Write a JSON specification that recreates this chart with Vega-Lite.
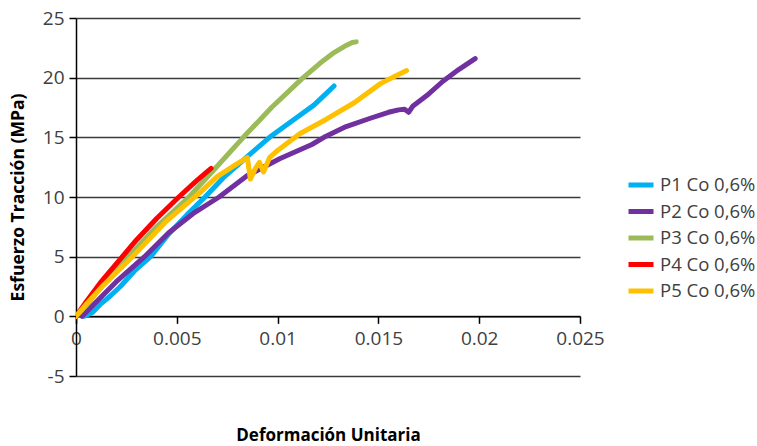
{
  "$schema": "https://vega.github.io/schema/vega-lite/v6.json",
  "width": 504,
  "height": 358,
  "autosize": {"type": "none"},
  "padding": {"left": 76, "top": 18, "right": 177, "bottom": 70},
  "background": "white",
  "config": {
    "view": {"stroke": null},
    "font": "Open Sans"
  },
  "data": {
    "values": [
      {"s": "P1 Co 0,6%", "x": 0.0004, "y": 0},
      {"s": "P1 Co 0,6%", "x": 0.0008, "y": 0.3},
      {"s": "P1 Co 0,6%", "x": 0.0012, "y": 1.0},
      {"s": "P1 Co 0,6%", "x": 0.0017, "y": 1.7},
      {"s": "P1 Co 0,6%", "x": 0.0022, "y": 2.5},
      {"s": "P1 Co 0,6%", "x": 0.0029, "y": 3.8},
      {"s": "P1 Co 0,6%", "x": 0.0037, "y": 5.0},
      {"s": "P1 Co 0,6%", "x": 0.0046, "y": 6.9},
      {"s": "P1 Co 0,6%", "x": 0.0055, "y": 8.5},
      {"s": "P1 Co 0,6%", "x": 0.0064, "y": 10.0},
      {"s": "P1 Co 0,6%", "x": 0.0073, "y": 11.6},
      {"s": "P1 Co 0,6%", "x": 0.0083, "y": 13.1},
      {"s": "P1 Co 0,6%", "x": 0.0096, "y": 15.0},
      {"s": "P1 Co 0,6%", "x": 0.0109, "y": 16.6},
      {"s": "P1 Co 0,6%", "x": 0.0118, "y": 17.7},
      {"s": "P1 Co 0,6%", "x": 0.0123, "y": 18.5},
      {"s": "P1 Co 0,6%", "x": 0.0128, "y": 19.3},
      {"s": "P2 Co 0,6%", "x": 0.0003, "y": 0},
      {"s": "P2 Co 0,6%", "x": 0.001, "y": 1.2},
      {"s": "P2 Co 0,6%", "x": 0.002, "y": 2.9},
      {"s": "P2 Co 0,6%", "x": 0.0034, "y": 5.0},
      {"s": "P2 Co 0,6%", "x": 0.0046, "y": 7.0},
      {"s": "P2 Co 0,6%", "x": 0.0058, "y": 8.6},
      {"s": "P2 Co 0,6%", "x": 0.0071, "y": 10.0},
      {"s": "P2 Co 0,6%", "x": 0.0085, "y": 11.8},
      {"s": "P2 Co 0,6%", "x": 0.0101, "y": 13.2},
      {"s": "P2 Co 0,6%", "x": 0.0117, "y": 14.4},
      {"s": "P2 Co 0,6%", "x": 0.0123, "y": 15.0},
      {"s": "P2 Co 0,6%", "x": 0.0134, "y": 15.9},
      {"s": "P2 Co 0,6%", "x": 0.0146, "y": 16.6},
      {"s": "P2 Co 0,6%", "x": 0.0155, "y": 17.1},
      {"s": "P2 Co 0,6%", "x": 0.016, "y": 17.3},
      {"s": "P2 Co 0,6%", "x": 0.0163, "y": 17.35},
      {"s": "P2 Co 0,6%", "x": 0.0165, "y": 17.1},
      {"s": "P2 Co 0,6%", "x": 0.0167, "y": 17.6},
      {"s": "P2 Co 0,6%", "x": 0.0174, "y": 18.5},
      {"s": "P2 Co 0,6%", "x": 0.0182, "y": 19.7},
      {"s": "P2 Co 0,6%", "x": 0.019, "y": 20.7},
      {"s": "P2 Co 0,6%", "x": 0.0198, "y": 21.6},
      {"s": "P3 Co 0,6%", "x": 0, "y": 0},
      {"s": "P3 Co 0,6%", "x": 0.0005, "y": 0.9},
      {"s": "P3 Co 0,6%", "x": 0.0012, "y": 2.4},
      {"s": "P3 Co 0,6%", "x": 0.0026, "y": 5.0},
      {"s": "P3 Co 0,6%", "x": 0.004, "y": 7.5},
      {"s": "P3 Co 0,6%", "x": 0.0056, "y": 10.0},
      {"s": "P3 Co 0,6%", "x": 0.0068, "y": 12.2},
      {"s": "P3 Co 0,6%", "x": 0.0083, "y": 15.0},
      {"s": "P3 Co 0,6%", "x": 0.0097, "y": 17.5},
      {"s": "P3 Co 0,6%", "x": 0.0112, "y": 19.9},
      {"s": "P3 Co 0,6%", "x": 0.0121, "y": 21.2},
      {"s": "P3 Co 0,6%", "x": 0.0128, "y": 22.1},
      {"s": "P3 Co 0,6%", "x": 0.0134, "y": 22.7},
      {"s": "P3 Co 0,6%", "x": 0.0137, "y": 22.95},
      {"s": "P3 Co 0,6%", "x": 0.0139, "y": 23.0},
      {"s": "P4 Co 0,6%", "x": 0, "y": 0},
      {"s": "P4 Co 0,6%", "x": 0.0005, "y": 1.2},
      {"s": "P4 Co 0,6%", "x": 0.0012, "y": 2.8},
      {"s": "P4 Co 0,6%", "x": 0.0023, "y": 5.0},
      {"s": "P4 Co 0,6%", "x": 0.003, "y": 6.4},
      {"s": "P4 Co 0,6%", "x": 0.004, "y": 8.2},
      {"s": "P4 Co 0,6%", "x": 0.0051, "y": 10.0},
      {"s": "P4 Co 0,6%", "x": 0.006, "y": 11.4},
      {"s": "P4 Co 0,6%", "x": 0.0067, "y": 12.4},
      {"s": "P5 Co 0,6%", "x": 0, "y": 0},
      {"s": "P5 Co 0,6%", "x": 0.0005, "y": 1.0},
      {"s": "P5 Co 0,6%", "x": 0.0013, "y": 2.5},
      {"s": "P5 Co 0,6%", "x": 0.0028, "y": 5.0},
      {"s": "P5 Co 0,6%", "x": 0.0045, "y": 8.0},
      {"s": "P5 Co 0,6%", "x": 0.0061, "y": 10.3},
      {"s": "P5 Co 0,6%", "x": 0.007, "y": 11.7},
      {"s": "P5 Co 0,6%", "x": 0.008, "y": 12.8},
      {"s": "P5 Co 0,6%", "x": 0.0085, "y": 13.3},
      {"s": "P5 Co 0,6%", "x": 0.00865, "y": 11.5},
      {"s": "P5 Co 0,6%", "x": 0.0089, "y": 12.4},
      {"s": "P5 Co 0,6%", "x": 0.0091, "y": 12.9},
      {"s": "P5 Co 0,6%", "x": 0.0093, "y": 12.1},
      {"s": "P5 Co 0,6%", "x": 0.0096, "y": 13.3},
      {"s": "P5 Co 0,6%", "x": 0.01, "y": 13.9},
      {"s": "P5 Co 0,6%", "x": 0.0111, "y": 15.3},
      {"s": "P5 Co 0,6%", "x": 0.0124, "y": 16.5},
      {"s": "P5 Co 0,6%", "x": 0.0138, "y": 17.9},
      {"s": "P5 Co 0,6%", "x": 0.0151, "y": 19.5},
      {"s": "P5 Co 0,6%", "x": 0.0158, "y": 20.1},
      {"s": "P5 Co 0,6%", "x": 0.0164, "y": 20.6}
    ]
  },
  "mark": {"type": "line", "strokeWidth": 5, "strokeJoin": "round", "strokeCap": "round", "clip": true},
  "encoding": {
    "x": {
      "field": "x",
      "type": "quantitative",
      "scale": {"domain": [0, 0.025], "nice": false},
      "axis": {
        "values": [0, 0.005, 0.01, 0.015, 0.02, 0.025],
        "format": ".3~f",
        "grid": false,
        "offset": -59.67,
        "domainColor": "#000000",
        "domainWidth": 1.5,
        "tickColor": "#000000",
        "tickWidth": 1.5,
        "tickSize": 7,
        "labelPadding": 6,
        "labelFont": "Open Sans",
        "labelFontSize": 19,
        "labelColor": "#404040",
        "labelFlush": false,
        "labelOverlap": false,
        "title": "Deformación Unitaria",
        "titleFont": "Open Sans",
        "titleFontSize": 17,
        "titleFontWeight": "bold",
        "titleColor": "#000000",
        "titleBaseline": "middle",
        "titleY": 119
      }
    },
    "y": {
      "field": "y",
      "type": "quantitative",
      "scale": {"domain": [-5, 25], "nice": false, "zero": false},
      "axis": {
        "values": [-5, 0, 5, 10, 15, 20, 25],
        "labelExpr": "'' + datum.value",
        "grid": true,
        "gridColor": "#3a3a3a",
        "gridWidth": 1.5,
        "domainColor": "#000000",
        "domainWidth": 1.5,
        "tickColor": "#000000",
        "tickWidth": 1.5,
        "tickSize": 7,
        "labelPadding": 5,
        "labelFont": "Open Sans",
        "labelFontSize": 19,
        "labelColor": "#404040",
        "labelFlush": false,
        "labelOverlap": false,
        "title": "Esfuerzo Tracción (MPa)",
        "titleFont": "Open Sans",
        "titleFontSize": 17.5,
        "titleFontWeight": "bold",
        "titleColor": "#000000",
        "titleBaseline": "middle",
        "titleX": -58
      }
    },
    "color": {
      "field": "s",
      "type": "nominal",
      "scale": {
        "domain": ["P1 Co 0,6%", "P2 Co 0,6%", "P3 Co 0,6%", "P4 Co 0,6%", "P5 Co 0,6%"],
        "range": ["#00B0F0", "#7030A0", "#9BBB59", "#FF0000", "#FFC000"]
      },
      "legend": {
        "title": null,
        "orient": "none",
        "legendX": 550,
        "legendY": 152,
        "symbolType": "stroke",
        "symbolSize": 625,
        "symbolStrokeWidth": 5,
        "labelFont": "Open Sans",
        "labelFontSize": 18.5,
        "labelColor": "#404040",
        "labelOffset": 4,
        "rowPadding": 1.5,
        "labelLimit": 200
      }
    }
  }
}
